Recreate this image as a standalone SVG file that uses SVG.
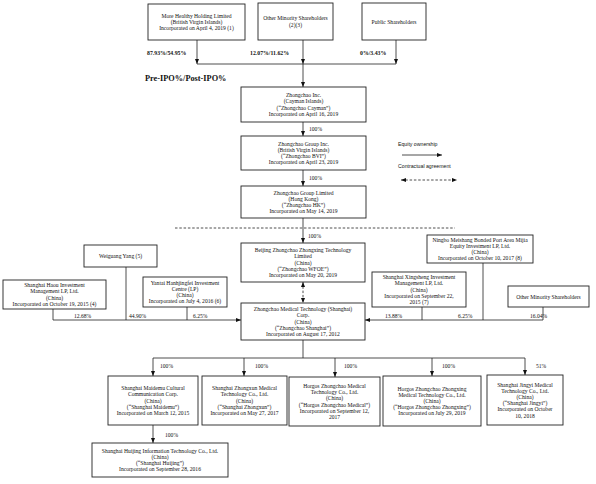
<svg xmlns="http://www.w3.org/2000/svg" width="596" height="484" viewBox="0 0 596 484">
<defs>
<marker id="ah" viewBox="0 0 10 8" refX="10" refY="4" markerWidth="5" markerHeight="4" markerUnits="userSpaceOnUse" orient="auto-start-reverse"><path d="M0,0 L10,4 L0,8 z" fill="#111"/></marker>
<style>
.box{fill:#fff;stroke:#222;stroke-width:0.9}
text{font-family:"Liberation Serif","Times New Roman",serif;font-size:5.6px;fill:#111}
.c{text-anchor:middle}
.b{font-weight:bold;font-size:5.8px}
.big{font-size:8.3px;font-weight:bold}
.sans{font-family:"Liberation Sans",Arial,sans-serif;font-size:5.2px}
.ln{fill:none;stroke:#222;stroke-width:0.8}
.arr{marker-end:url(#ah)}
.dash{stroke-dasharray:2.5,1.8}
.both{marker-start:url(#ah);marker-end:url(#ah)}
</style>
</defs>
<rect width="596" height="484" fill="#fff"/>

<g id="connectors">
<path class="ln arr" d="M197,40 V64"/>
<path class="ln arr" d="M303,40 V64"/>
<path class="ln arr" d="M396,40 V64"/>
<path class="ln" d="M197,64 H396"/>
<path class="ln arr" d="M303,64 V87"/>
<path class="ln arr" d="M303,122 V136"/>
<path class="ln arr" d="M303,170 V186"/>
<path class="ln arr" d="M303,218 V243"/>
<path class="ln dash both" d="M303,282 V303"/>
<path class="ln dash" d="M175,228 H455"/>
<path class="ln arr" d="M53,309 V320 H241"/>
<path class="ln" d="M126,267 V320"/>
<path class="ln" d="M187,307 V320"/>
<path class="ln arr" d="M543,307 V320 H365"/>
<path class="ln" d="M483,263 V320"/>
<path class="ln" d="M422,307 V320"/>
<path class="ln" d="M303,340 V358"/>
<path class="ln" d="M153,358 H525"/>
<path class="ln arr" d="M153,358 V376"/>
<path class="ln arr" d="M244,358 V376"/>
<path class="ln arr" d="M335,358 V377"/>
<path class="ln arr" d="M432,358 V376"/>
<path class="ln arr" d="M525,358 V375"/>
<path class="ln arr" d="M153,425 V443"/>
<path class="ln arr" d="M402,155 H442"/>
<path class="ln dash both" d="M401,180 H457"/>
</g>

<g id="labels">
<text class="b" x="147" y="55">87.93%/54.95%</text>
<text class="b" x="250" y="55">12.07%/11.62%</text>
<text class="b" x="360" y="55">0%/3.43%</text>
<text class="big" x="145" y="81">Pre-IPO%/Post-IPO%</text>
<text x="309" y="131">100%</text>
<text x="309" y="180">100%</text>
<text x="308" y="238">100%</text>
<text x="74" y="318">12.68%</text>
<text x="129" y="318">44.90%</text>
<text x="193" y="318">6.25%</text>
<text x="385" y="318">13.88%</text>
<text x="458" y="318">6.25%</text>
<text x="530" y="318">16.04%</text>
<text x="160" y="368">100%</text>
<text x="255" y="368">100%</text>
<text x="344" y="368">100%</text>
<text x="442" y="368">100%</text>
<text x="536" y="368">51%</text>
<text x="165" y="437">100%</text>
<text class="sans" x="398" y="146">Equity ownership</text>
<text class="sans" x="398" y="168">Contractual agreement</text>
</g>

<g id="more-healthy">
<rect class="box" x="148" y="4" width="97" height="36"/>
<text class="c" x="196.5" y="18"><tspan x="196.5">More Healthy Holding Limited</tspan><tspan x="196.5" dy="6.2">(British Virgin Islands)</tspan><tspan x="196.5" dy="6.2">Incorporated on April 4, 2019 (1)</tspan></text>
</g>
<g id="other-minority-top">
<rect class="box" x="258" y="3" width="75" height="37"/>
<text class="c" x="295.5" y="20.4"><tspan x="295.5">Other Minority Shareholders</tspan><tspan x="295.5" dy="6.2">(2)(3)</tspan></text>
</g>
<g id="public">
<rect class="box" x="362" y="3" width="64" height="37"/>
<text class="c" x="394" y="23.5">Public Shareholders</text>
</g>

<g id="zhongchao-inc">
<rect class="box" x="241" y="87" width="125" height="35"/>
<text class="c" x="303.5" y="97.2"><tspan x="303.5">Zhongchao Inc.</tspan><tspan x="303.5" dy="6.2">(Cayman Islands)</tspan><tspan x="303.5" dy="6.2">(“Zhongchao Cayman”)</tspan><tspan x="303.5" dy="6.2">Incorporated on April 16, 2019</tspan></text>
</g>
<g id="zhongchao-bvi">
<rect class="box" x="241" y="136" width="125" height="34"/>
<text class="c" x="303.5" y="145.7"><tspan x="303.5">Zhongchao Group Inc.</tspan><tspan x="303.5" dy="6.2">(British Virgin Islands)</tspan><tspan x="303.5" dy="6.2">(“Zhongchao BVI”)</tspan><tspan x="303.5" dy="6.2">Incorporated on April 23, 2019</tspan></text>
</g>
<g id="zhongchao-hk">
<rect class="box" x="241" y="186" width="125" height="32"/>
<text class="c" x="303.5" y="194.7"><tspan x="303.5">Zhongchao Group Limited</tspan><tspan x="303.5" dy="6.2">(Hong Kong)</tspan><tspan x="303.5" dy="6.2">(“Zhongchao HK”)</tspan><tspan x="303.5" dy="6.2">Incorporated on May 14, 2019</tspan></text>
</g>
<g id="zhongchao-wfoe">
<rect class="box" x="241" y="243" width="124" height="39"/>
<text class="c" x="303" y="252.1"><tspan x="303">Beijing Zhongchao Zhongxing Technology</tspan><tspan x="303" dy="6.2">Limited</tspan><tspan x="303" dy="6.2">(China)</tspan><tspan x="303" dy="6.2">(“Zhongchao WFOE”)</tspan><tspan x="303" dy="6.2">Incorporated on May 20, 2019</tspan></text>
</g>
<g id="zhongchao-shanghai">
<rect class="box" x="241" y="303" width="124" height="37"/>
<text class="c" x="303" y="311.1"><tspan x="303">Zhongchao Medical Technology (Shanghai)</tspan><tspan x="303" dy="6.2">Corp.</tspan><tspan x="303" dy="6.2">(China)</tspan><tspan x="303" dy="6.2">(“Zhongchao Shanghai”)</tspan><tspan x="303" dy="6.2">Incorporated on August 17, 2012</tspan></text>
</g>

<g id="weiguang-yang">
<rect class="box" x="84" y="245" width="73" height="22"/>
<text class="c" x="120.5" y="258">Weiguang Yang (5)</text>
</g>
<g id="shanghai-haou">
<rect class="box" x="3" y="280" width="103" height="29"/>
<text class="c" x="54.5" y="287.2"><tspan x="54.5">Shanghai Haou Investment</tspan><tspan x="54.5" dy="6.2">Management LP, Ltd.</tspan><tspan x="54.5" dy="6.2">(China)</tspan><tspan x="54.5" dy="6.2">Incorporated on October 19, 2015 (4)</tspan></text>
</g>
<g id="yantai">
<rect class="box" x="143" y="277" width="84" height="30"/>
<text class="c" x="185" y="284.7"><tspan x="185">Yantai Hanhjingfei Investment</tspan><tspan x="185" dy="6.2">Centre (LP)</tspan><tspan x="185" dy="6.2">(China)</tspan><tspan x="185" dy="6.2">Incorporated on July 4, 2016 (6)</tspan></text>
</g>
<g id="ningbo">
<rect class="box" x="427" y="235" width="106" height="28"/>
<text class="c" x="480" y="241.7"><tspan x="480">Ningbo Meishang Bonded Port Area Mijia</tspan><tspan x="480" dy="6.2">Equity Investment LP, Ltd.</tspan><tspan x="480" dy="6.2">(China)</tspan><tspan x="480" dy="6.2">Incorporated on October 10, 2017 (8)</tspan></text>
</g>
<g id="shanghai-xingsheng">
<rect class="box" x="372" y="272" width="94" height="35"/>
<text class="c" x="419" y="279.1"><tspan x="419">Shanghai Xingsheng Investment</tspan><tspan x="419" dy="6.2">Management LP, Ltd.</tspan><tspan x="419" dy="6.2">(China)</tspan><tspan x="419" dy="6.2">Incorporated on September 22,</tspan><tspan x="419" dy="6.2">2015 (7)</tspan></text>
</g>
<g id="other-minority-right">
<rect class="box" x="508" y="286" width="81" height="21"/>
<text class="c" x="548.5" y="298.5">Other Minority Shareholders</text>
</g>

<g id="shanghai-maidemu">
<rect class="box" x="108" y="376" width="90" height="49"/>
<text class="c" x="153" y="390.1"><tspan x="153">Shanghai Maidemu Cultural</tspan><tspan x="153" dy="6.2">Communication Corp.</tspan><tspan x="153" dy="6.2">(China)</tspan><tspan x="153" dy="6.2">(“Shanghai Maidemu”)</tspan><tspan x="153" dy="6.2">Incorporated on March 12, 2015</tspan></text>
</g>
<g id="shanghai-zhongxun">
<rect class="box" x="202" y="376" width="85" height="49"/>
<text class="c" x="244.5" y="390.1"><tspan x="244.5">Shanghai Zhongxun Medical</tspan><tspan x="244.5" dy="6.2">Technology Co., Ltd.</tspan><tspan x="244.5" dy="6.2">(China)</tspan><tspan x="244.5" dy="6.2">(“Shanghai Zhongxun”)</tspan><tspan x="244.5" dy="6.2">Incorporated on May 27, 2017</tspan></text>
</g>
<g id="horgos-medical">
<rect class="box" x="289" y="377" width="91" height="49"/>
<text class="c" x="334.5" y="388"><tspan x="334.5">Horgos Zhongchao Medical</tspan><tspan x="334.5" dy="6.2">Technology Co., Ltd.</tspan><tspan x="334.5" dy="6.2">(China)</tspan><tspan x="334.5" dy="6.2">(“Horgos Zhongchao Medical”)</tspan><tspan x="334.5" dy="6.2">Incorporated on September 12,</tspan><tspan x="334.5" dy="6.2">2017</tspan></text>
</g>
<g id="horgos-zhongxing">
<rect class="box" x="383" y="376" width="98" height="50"/>
<text class="c" x="432" y="390.6"><tspan x="432">Horgos Zhongchao Zhongxing</tspan><tspan x="432" dy="6.2">Medical Technology Co., Ltd.</tspan><tspan x="432" dy="6.2">(China)</tspan><tspan x="432" dy="6.2">(“Horgos Zhongchao Zhongxing”)</tspan><tspan x="432" dy="6.2">Incorporated on July 29, 2019</tspan></text>
</g>
<g id="shanghai-jingyi">
<rect class="box" x="487" y="375" width="76" height="50"/>
<text class="c" x="525" y="386.5"><tspan x="525">Shanghai Jingyi Medical</tspan><tspan x="525" dy="6.2">Technology Co., Ltd.</tspan><tspan x="525" dy="6.2">(China)</tspan><tspan x="525" dy="6.2">(“Shanghai Jingyi”)</tspan><tspan x="525" dy="6.2">Incorporated on October</tspan><tspan x="525" dy="6.2">10, 2018</tspan></text>
</g>
<g id="shanghai-huijing">
<rect class="box" x="92" y="443" width="136" height="34"/>
<text class="c" x="160" y="452.7"><tspan x="160">Shanghai Huijing Information Technology Co., Ltd.</tspan><tspan x="160" dy="6.2">(China)</tspan><tspan x="160" dy="6.2">(“Shanghai Huijing”)</tspan><tspan x="160" dy="6.2">Incorporated on September 28, 2016</tspan></text>
</g>
</svg>
